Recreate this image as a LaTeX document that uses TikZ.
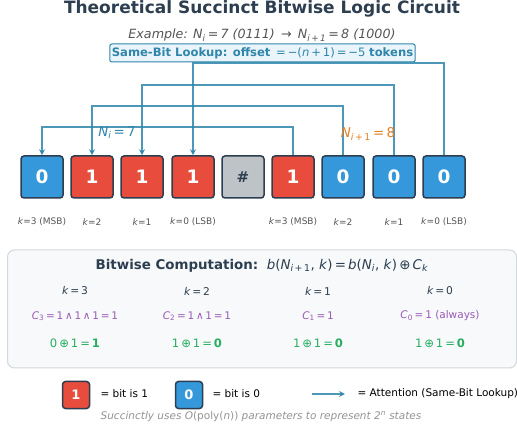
\documentclass[tikz,border=0pt]{standalone}
\usepackage{fontspec}
\setmainfont{DejaVu Sans}
\usetikzlibrary{arrows.meta}
\definecolor{ink}{HTML}{2C3E50}
\definecolor{attn}{HTML}{2E86AB}
\definecolor{bitone}{HTML}{E74C3C}
\definecolor{bitzero}{HTML}{3498DB}
\definecolor{sepgray}{HTML}{BDC3C7}
\definecolor{orng}{HTML}{E67E22}
\definecolor{purp}{HTML}{9B59B6}
\definecolor{grn}{HTML}{27AE60}
\definecolor{txtgray}{HTML}{555555}
\definecolor{panelfill}{HTML}{F7F9FA}
\definecolor{panelline}{HTML}{D5D8DC}
\definecolor{lookfill}{HTML}{EAF4FB}
\newcommand{\mv}[1]{\textit{#1}}
\newcommand{\sbs}[1]{\textsubscript{#1}}
\tikzset{
  bitbox/.style={draw=ink, line width=1.5pt, rounded corners=3pt, minimum size=42pt,
    inner sep=0pt, text=white, font=\fontsize{18.5}{18.5}\selectfont\bfseries},
  one/.style={bitbox, fill=bitone},
  zero/.style={bitbox, fill=bitzero},
  sep/.style={bitbox, fill=sepgray, text=ink, font=\fontsize{15}{15}\selectfont\bfseries},
  conn/.style={draw=attn, line width=1.5pt, draw opacity=0.85},
  klab/.style={text=txtgray, font=\fontsize{9}{9}\selectfont},
  colhead/.style={text=ink, font=\fontsize{10.7}{11}\selectfont},
  carry/.style={text=purp, font=\fontsize{10.5}{11}\selectfont},
  xorres/.style={text=grn, font=\fontsize{11.6}{12}\selectfont},
  legbox/.style={draw=ink, line width=1.5pt, rounded corners=3pt, minimum size=27pt,
    inner sep=0pt, text=white, font=\fontsize{13}{13}\selectfont\bfseries},
  legtext/.style={anchor=west, text=black, font=\fontsize{10.5}{11}\selectfont},
}
\begin{document}
\begin{tikzpicture}[x=1pt,y=-1pt]
\useasboundingbox (0,0) rectangle (517,430);

% heading
\node[text=ink, font=\fontsize{17}{17}\selectfont\bfseries] (title) at (262,9)
  {Theoretical Succinct Bitwise Logic Circuit};
\node[text=txtgray, font=\fontsize{12.7}{13}\selectfont\itshape] (example) at (262,35)
  {Example: \mv{N}\sbs{\mv{i}}\,=\,7 (0111) \,→\, \mv{N}\sbs{\mv{i}\,+\,1}\,=\,8 (1000)};
\node[draw=attn, fill=lookfill, line width=1pt, rounded corners=2pt, inner xsep=2pt,
  minimum height=18pt, text=attn, font=\fontsize{11.6}{12}\selectfont] (lookup) at (262.5,53)
  {\textbf{Same-Bit Lookup: offset} \,=\,−(\mv{n}\,+\,1)\,=\,−5 \textbf{tokens}};

% bit tokens
\node[zero] (b1) at (42,177) {0};
\node[one]  (b2) at (92,177) {1};
\node[one]  (b3) at (142,177) {1};
\node[one]  (b4) at (193,177) {1};
\node[sep]  (b5) at (243,177) {\#};
\node[one]  (b6) at (293,177) {1};
\node[zero] (b7) at (343,177) {0};
\node[zero] (b8) at (394,177) {0};
\node[zero] (b9) at (444,177) {0};

% bit position labels
\node[klab] (k1) at (42,222) {\mv{k}=3 (MSB)};
\node[klab] (k2) at (92,222) {\mv{k}=2};
\node[klab] (k3) at (142,222) {\mv{k}=1};
\node[klab] (k4) at (193,222) {\mv{k}=0 (LSB)};
\node[klab] (k6) at (293,222) {\mv{k}=3 (MSB)};
\node[klab] (k7) at (343,222) {\mv{k}=2};
\node[klab] (k8) at (394,222) {\mv{k}=1};
\node[klab] (k9) at (444,222) {\mv{k}=0 (LSB)};

% routing levels of the attention links
\coordinate (lv1) at (0,63);
\coordinate (lv2) at (0,85);
\coordinate (lv3) at (0,106);
\coordinate (lv4) at (0,127);

\draw[conn, -{Stealth[length=6pt,width=6pt]}] (b9.north) -- (b9.north |- lv1) -- (b4.north |- lv1) -- (b4.north);
\draw[conn, -{Stealth[length=6pt,width=6pt]}] (b8.north) -- (b8.north |- lv2) -- (b3.north |- lv2) -- (b3.north);
\draw[conn, -{Stealth[length=6pt,width=6pt]}] (b7.north) -- (b7.north |- lv3) -- (b2.north |- lv3) -- (b2.north);
\draw[conn, -{Stealth[length=6pt,width=6pt]}] (b6.north) -- (b6.north |- lv4) -- (b1.north |- lv4) -- (b1.north);

\node[text=attn, font=\fontsize{13.4}{14}\selectfont] (ni) at (117,133) {\mv{N}\sbs{\mv{i}}\,=\,7};
\node[text=orng, font=\fontsize{13.4}{14}\selectfont] (nj) at (368,134) {\mv{N}\sbs{\mv{i}\,+\,1}\,=\,8};

% computation panel
\node[draw=panelline, fill=panelfill, line width=1pt, rounded corners=7pt,
  minimum width=509pt, minimum height=118pt] (panel) at (262,309) {};
\node[text=ink, font=\fontsize{13.4}{14}\selectfont] (ptitle) at (262,266)
  {\textbf{Bitwise Computation:}\ \ \mv{b}(\mv{N}\sbs{\mv{i}\,+\,1}, \mv{k})\,=\,\mv{b}(\mv{N}\sbs{\mv{i}}, \mv{k})\,⊕\,\mv{C}\sbs{\mv{k}}};

\node[colhead] (h3) at (75,291) {\mv{k}\,=\,3};
\node[colhead] (h2) at (197,291) {\mv{k}\,=\,2};
\node[colhead] (h1) at (318,291) {\mv{k}\,=\,1};
\node[colhead] (h0) at (440,291) {\mv{k}\,=\,0};

\node[carry] (c3) at (75,316) {\mv{C}\sbs{3}\,=\,1\,∧\,1\,∧\,1\,=\,1};
\node[carry] (c2) at (197,316) {\mv{C}\sbs{2}\,=\,1\,∧\,1\,=\,1};
\node[carry] (c1) at (318,316) {\mv{C}\sbs{1}\,=\,1};
\node[carry] (c0) at (440,316) {\mv{C}\sbs{0}\,=\,1 (always)};

\node[xorres] (r3) at (75,343) {0\,⊕\,1\,=\,\textbf{1}};
\node[xorres] (r2) at (197,343) {1\,⊕\,1\,=\,\textbf{0}};
\node[xorres] (r1) at (318,343) {1\,⊕\,1\,=\,\textbf{0}};
\node[xorres] (r0) at (440,343) {1\,⊕\,1\,=\,\textbf{0}};

% legend
\node[legbox, fill=bitone] (lg1) at (76,395) {1};
\node[legtext] (lt1) at (97,394) {= bit is 1};
\node[legbox, fill=bitzero] (lg0) at (189,395) {0};
\node[legtext] (lt0) at (209,394) {= bit is 0};
\coordinate (la) at (312,394);
\coordinate (lb) at (345,394);
\draw[conn, -{Stealth[length=6pt,width=6pt]}] (la) -- (lb);
\node[legtext] (lt2) at (354,394) {= Attention (Same-Bit Lookup)};

\node[text=gray!85, font=\fontsize{10.5}{11}\selectfont\itshape] (foot) at (261,417)
  {Succinctly uses \textup{\mv{O}(poly(\mv{n}))} parameters to represent 2\textsuperscript{\mv{n}} states};
\end{tikzpicture}
\end{document}
